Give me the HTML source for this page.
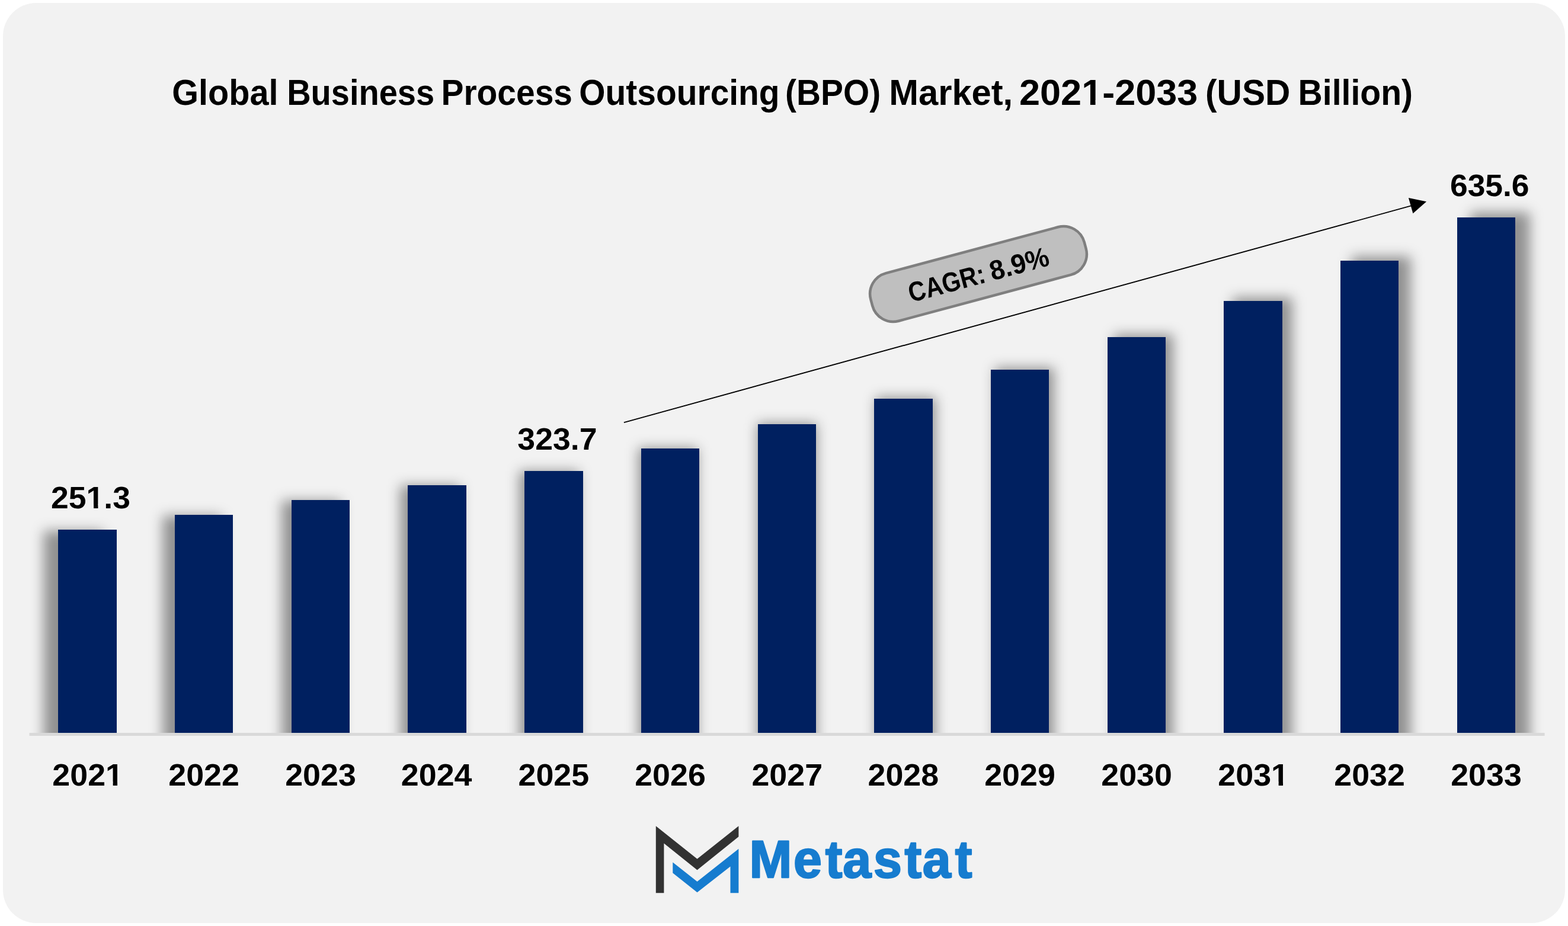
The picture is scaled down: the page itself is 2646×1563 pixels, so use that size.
<!DOCTYPE html>
<html lang="en">
<head>
<meta charset="utf-8">
<title>Global Business Process Outsourcing (BPO) Market, 2021-2033 (USD Billion)</title>
<style>
html,body{margin:0;padding:0;background:#fff;}
body{width:2646px;height:1563px;overflow:hidden;}
svg{display:block;}
svg text{font-family:'Liberation Sans', sans-serif;font-weight:bold;}
</style>
</head>
<body>
<svg width="2646" height="1563" viewBox="0 0 2646 1563">
<defs>
<filter id="blur" x="0" y="0" width="2646" height="1563" filterUnits="userSpaceOnUse"><feGaussianBlur stdDeviation="10.5"/></filter>
<filter id="soft" x="1080" y="1370" width="600" height="160" filterUnits="userSpaceOnUse"><feGaussianBlur stdDeviation="0.6"/></filter>
<clipPath id="plot"><rect x="50" y="0" width="2556.6" height="1237.0"/></clipPath>
</defs>
<rect x="5" y="5" width="2636" height="1553" rx="56" ry="56" fill="#F2F2F2"/>
<text id="title" y="177.0" font-size="60.2" fill="#000"><tspan x="290.30" textLength="179.21" lengthAdjust="spacingAndGlyphs">Global</tspan> <tspan x="484.16" textLength="248.95" lengthAdjust="spacingAndGlyphs">Business</tspan> <tspan x="744.50" textLength="221.47" lengthAdjust="spacingAndGlyphs">Process</tspan> <tspan x="977.32" textLength="338.33" lengthAdjust="spacingAndGlyphs">Outsourcing</tspan> <tspan x="1325.06" textLength="161.07" lengthAdjust="spacingAndGlyphs">(BPO)</tspan> <tspan x="1500.32" textLength="208.84" lengthAdjust="spacingAndGlyphs">Market,</tspan> <tspan x="1719.99" textLength="301.46" lengthAdjust="spacingAndGlyphs">2021-2033</tspan> <tspan x="2034.07" textLength="143.23" lengthAdjust="spacingAndGlyphs">(USD</tspan> <tspan x="2190.59" textLength="193.46" lengthAdjust="spacingAndGlyphs">Billion)</tspan></text>
<g clip-path="url(#plot)"><g filter="url(#blur)" fill="#000" fill-opacity="0.4">
<rect x="73.41" y="895.84" width="100.98" height="389.86"/>
<rect x="274.35" y="870.34" width="99.96" height="415.36"/>
<rect x="475.29" y="844.84" width="99.96" height="440.86"/>
<rect x="675.21" y="819.34" width="100.98" height="466.36"/>
<rect x="876.15" y="794.86" width="100.98" height="490.84"/>
<rect x="1077.09" y="756.10" width="99.96" height="529.60"/>
<rect x="1278.03" y="714.28" width="99.96" height="571.42"/>
<rect x="1477.95" y="670.42" width="100.98" height="615.28"/>
<rect x="1678.89" y="620.44" width="99.96" height="665.26"/>
<rect x="1879.83" y="564.34" width="99.96" height="721.36"/>
<rect x="2079.75" y="502.12" width="100.98" height="783.58"/>
<rect x="2280.69" y="432.76" width="99.96" height="852.94"/>
<rect x="2481.63" y="358.30" width="99.96" height="927.40"/>
</g></g>
<rect x="49.5" y="1237.0" width="2557.1" height="5.0" fill="#D9D9D9"/>
<g id="bars" fill="#002060">
<rect x="98.00" y="894.00" width="99.00" height="343.00"/>
<rect x="295.00" y="869.00" width="98.00" height="368.00"/>
<rect x="492.00" y="844.00" width="98.00" height="393.00"/>
<rect x="688.00" y="819.00" width="99.00" height="418.00"/>
<rect x="885.00" y="795.00" width="99.00" height="442.00"/>
<rect x="1082.00" y="757.00" width="98.00" height="480.00"/>
<rect x="1279.00" y="716.00" width="98.00" height="521.00"/>
<rect x="1475.00" y="673.00" width="99.00" height="564.00"/>
<rect x="1672.00" y="624.00" width="98.00" height="613.00"/>
<rect x="1869.00" y="569.00" width="98.00" height="668.00"/>
<rect x="2065.00" y="508.00" width="99.00" height="729.00"/>
<rect x="2262.00" y="440.00" width="98.00" height="797.00"/>
<rect x="2459.00" y="367.00" width="98.00" height="870.00"/>
</g>
<g id="labels">
<text transform="translate(86.03 857.90) scale(1.0296 0.9973)" font-size="52" fill="#000">251.3</text>
<text transform="translate(873.36 758.90) scale(1.0306 0.9973)" font-size="52" fill="#000">323.7</text>
<text transform="translate(2446.93 330.50) scale(1.0272 0.9973)" font-size="52" fill="#000">635.6</text>
</g>
<g id="years">
<text transform="translate(88.29 1326.00) scale(1.0350 1.0000)" font-size="52" fill="#000">2021</text>
<text transform="translate(284.26 1326.00) scale(1.0350 1.0000)" font-size="52" fill="#000">2022</text>
<text transform="translate(481.13 1326.00) scale(1.0350 1.0000)" font-size="52" fill="#000">2023</text>
<text transform="translate(676.82 1326.00) scale(1.0350 1.0000)" font-size="52" fill="#000">2024</text>
<text transform="translate(874.49 1326.00) scale(1.0350 1.0000)" font-size="52" fill="#000">2025</text>
<text transform="translate(1071.13 1326.00) scale(1.0350 1.0000)" font-size="52" fill="#000">2026</text>
<text transform="translate(1268.39 1326.00) scale(1.0350 1.0000)" font-size="52" fill="#000">2027</text>
<text transform="translate(1464.49 1326.00) scale(1.0350 1.0000)" font-size="52" fill="#000">2028</text>
<text transform="translate(1661.13 1326.00) scale(1.0350 1.0000)" font-size="52" fill="#000">2029</text>
<text transform="translate(1858.26 1326.00) scale(1.0350 1.0000)" font-size="52" fill="#000">2030</text>
<text transform="translate(2055.29 1326.00) scale(1.0350 1.0000)" font-size="52" fill="#000">2031</text>
<text transform="translate(2251.26 1326.00) scale(1.0350 1.0000)" font-size="52" fill="#000">2032</text>
<text transform="translate(2448.13 1326.00) scale(1.0350 1.0000)" font-size="52" fill="#000">2033</text>
</g>
<g id="numeral-trim"><g transform="translate(1719.99 177.00) scale(1.0471 1.0000)" fill="#F2F2F2"><rect x="102.18" y="-7.47" width="12.32" height="9.52"/><rect x="122.75" y="-7.47" width="11.55" height="9.52"/></g>
<g transform="translate(86.03 857.90) scale(1.0296 0.9973)" fill="#F2F2F2"><rect x="59.34" y="-6.45" width="10.64" height="8.23"/><rect x="77.11" y="-6.45" width="9.98" height="8.23"/></g>
<g transform="translate(88.29 1326.00) scale(1.0350 1.0000)" fill="#F2F2F2"><rect x="88.26" y="-6.45" width="10.64" height="8.23"/><rect x="106.03" y="-6.45" width="9.98" height="8.23"/></g>
<g transform="translate(2055.29 1326.00) scale(1.0350 1.0000)" fill="#F2F2F2"><rect x="88.26" y="-6.45" width="10.64" height="8.23"/><rect x="106.03" y="-6.45" width="9.98" height="8.23"/></g></g>
<line x1="1052.9" y1="713.1" x2="2382" y2="347.2" stroke="#000" stroke-width="1.9"/>
<polygon points="2407.1,340.3 2376.9,333.9 2384.4,360.2" fill="#000"/>
<g transform="translate(1651 462.5) rotate(-15)">
<rect x="-186.55" y="-41.75" width="373.10" height="83.50" rx="36.25" ry="36.25" fill="#BFBFBF" stroke="#7F7F7F" stroke-width="4.5"/>
<text transform="translate(0 17) scale(1 1.0082)" y="0" font-size="46" fill="#000"><tspan x="-122.02" textLength="132.35" lengthAdjust="spacingAndGlyphs">CAGR:</tspan> <tspan x="19.96" textLength="101.93" lengthAdjust="spacingAndGlyphs">8.9%</tspan></text>
</g>
<g id="logo" filter="url(#soft)">
<polygon fill="#333333" points="1106.8,1394.2 1176.5,1449.8 1246.4,1394.2 1246.4,1412.2 1176.5,1468.6 1120.4,1423.5 1120.4,1507.2 1106.8,1507.2"/>
<polygon fill="#167BCF" points="1135.3,1455.5 1176.5,1487.9 1246.4,1432.7 1246.4,1507.2 1232.5,1507.2 1232.5,1462.5 1176.5,1506.3 1135.3,1473.5"/>
<text transform="translate(0 1480.9) scale(0.9800 1.0046)" x="1290.42 1366.38 1421.19 1451.18 1504.07 1557.62 1588.43 1644.56" y="0" font-size="88" fill="#167BCF" stroke="#167BCF" stroke-width="2.4" stroke-linejoin="round">Metastat</text>
</g>
</svg>
</body>
</html>
